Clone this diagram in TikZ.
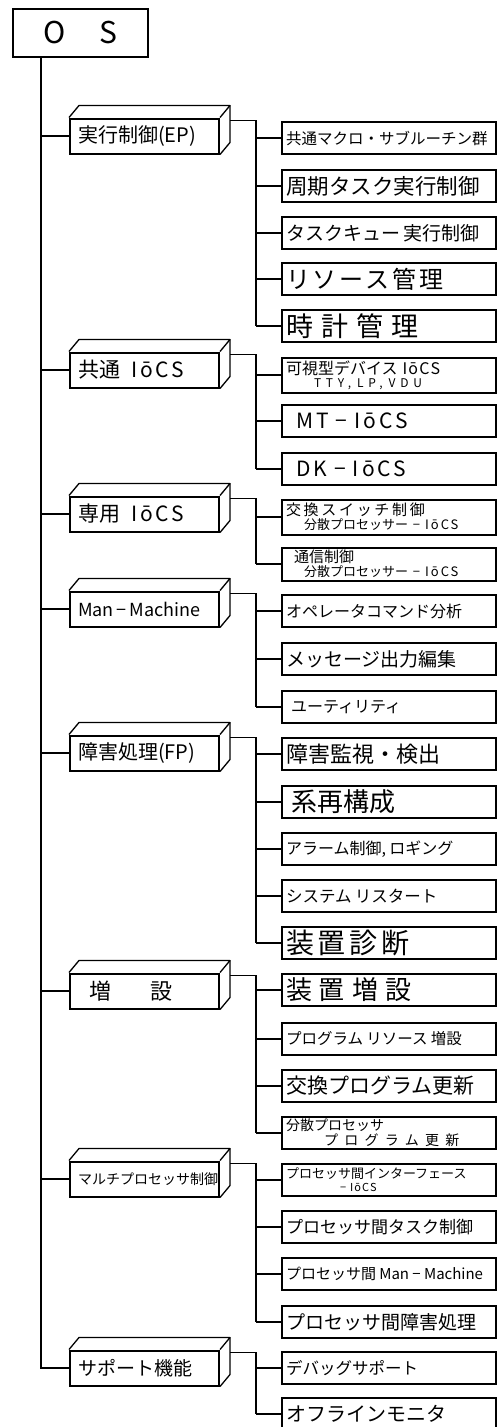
\documentclass[tikz,border=0pt]{standalone}
\usepackage{fontspec}
\newfontfamily\jp{Noto Sans CJK JP}
\usetikzlibrary{calc}
\newcommand{\fs}[1]{\fontsize{#1}{#1}\selectfont}
\newcommand{\lsp}[1]{\addfontfeature{LetterSpace=#1}}
\begin{document}
\begin{tikzpicture}[x=1pt,y=-1pt,
  wire/.style={line width=1.9pt},
  osbox/.style={draw,line width=2pt,minimum width=135pt,minimum height=48pt,inner sep=0pt,font=\jp},
  catbox/.style={draw,line width=2pt,text width=133pt,inner xsep=8pt,inner ysep=0pt,minimum height=35pt,anchor=west,align=left,font=\jp,fill=white},
  childbox/.style={draw,line width=2pt,text width=206pt,inner xsep=4pt,inner ysep=0pt,minimum height=32pt,anchor=west,align=left,font=\jp},
  face/.style={line width=1.3pt,line join=round}]
\useasboundingbox[fill=white] (0,0) rectangle (501,1427);

% root
\node[osbox] (os) at (80.5,33) {\fs{30}O\hspace{33pt}S};
\coordinate (t) at (41,0);

% categories
\node[catbox] (c1) at (69,136) {\fs{20}実行制御(EP)};
\node[catbox] (c2) at (69,370) {\fs{21}共通\hspace{12pt}{\lsp{12}IōCS}};
\node[catbox] (c3) at (69,514) {\fs{21}専用\hspace{12pt}{\lsp{12}IōCS}};
\node[catbox] (c4) at (69,609) {\fs{18}Man\,−\,Machine};
\node[catbox] (c5) at (69,753) {\fs{20}障害処理(FP)};
\node[catbox] (c6) at (69,991) {\fs{22}\hspace*{11pt}増\hspace{40pt}設};
\node[catbox] (c7) at (69,1179) {\fs{14}マルチプロセッサ制御};
\node[catbox] (c8) at (69,1368) {\fs{19}サポート機能};

\foreach \c in {c1,c2,c3,c4,c5,c6,c7,c8}{
  \draw[face] (\c.north west) -- ++(10,-12) -- ($(\c.north east)+(10,-12)$) -- (\c.north east);
  \draw[face] ($(\c.north east)+(10,-12)$) -- ($(\c.south east)+(10,-12)$) -- (\c.south east);
  \coordinate (\c r) at ($(\c.north east)+(10,3)$);
}

% trunk
\draw[wire] (t |- os.south) |- (c8.west);
\foreach \c in {c1,c2,c3,c4,c5,c6,c7}{
  \draw[wire] (t |- \c.west) -- (\c.west);
}

\coordinate (b) at (256,0);

% group 1
\node[childbox] (k11) at (281,138) {\fs{15.5}共通マクロ・サブルーチン群};
\node[childbox] (k12) at (281,186) {\fs{21.5}周期タスク実行制御};
\node[childbox] (k13) at (281,233) {\fs{19}タスクキュー 実行制御};
\node[childbox] (k14) at (281,279) {\fs{24}{\lsp{12}リソース管理}};
\node[childbox] (k15) at (281,326) {\fs{27}{\lsp{30}時計管理}};
% group 2
\node[childbox,minimum height=35pt] (k21) at (281,375) {\fontsize{16}{16}\selectfont 可視型デバイス\hspace{5pt}{\lsp{8}IōCS}\\[1pt]\fontsize{12}{12}\selectfont\hspace*{28pt}{\lsp{40}TTY,}\hspace{6pt}{\lsp{40}LP,}\hspace{6pt}{\lsp{40}VDU}};
\node[childbox] (k22) at (281,421) {\fs{21}\hspace*{10pt}{\lsp{15}MT}\hspace{7pt}−\hspace{7pt}{\lsp{15}IōCS}};
\node[childbox] (k23) at (281,469) {\fs{21}\hspace*{10pt}{\lsp{15}DK}\hspace{7pt}−\hspace{7pt}{\lsp{15}IōCS}};
% group 3
\node[childbox,minimum height=35pt] (k31) at (281,517) {\fontsize{15}{15}\selectfont{\lsp{18}交換スイッチ制御}\\[1pt]\fontsize{13}{13}\selectfont\hspace*{18pt}分散プロセッサー\hspace{5pt}−\hspace{5pt}{\lsp{15}IōCS}};
\node[childbox,minimum height=33pt] (k32) at (281,564) {\fontsize{15}{15}\selectfont\hspace*{8pt}通信制御\\[1pt]\fontsize{13}{13}\selectfont\hspace*{18pt}分散プロセッサー\hspace{5pt}−\hspace{5pt}{\lsp{15}IōCS}};
% group 4
\node[childbox] (k41) at (281,611) {\fs{16}オペレータコマンド分析};
\node[childbox] (k42) at (281,659) {\fs{19}メッセージ出力編集};
\node[childbox] (k43) at (281,707) {\fs{16}\hspace*{5pt}ユーティリティ};
% group 5
\node[childbox] (k51) at (281,754) {\fs{22}障害監視・検出};
\node[childbox] (k52) at (281,802) {\fs{26}\hspace*{5pt}系再構成};
\node[childbox] (k53) at (281,849) {\fs{16}アラーム制御, ロギング};
\node[childbox] (k54) at (281,896) {\fs{16.5}システム リスタート};
\node[childbox] (k55) at (281,943) {\fs{28}{\lsp{14}装置診断}};
% group 6
\node[childbox] (k61) at (281,990) {\fs{26}{\lsp{27}装置増設}};
\node[childbox] (k62) at (281,1039) {\fs{15.5}プログラム リソース 増設};
\node[childbox] (k63) at (281,1086) {\fs{21}交換プログラム更新};
\node[childbox] (k64) at (281,1133) {\fontsize{14}{14}\selectfont 分散プロセッサ\\[1pt]\fontsize{14}{14}\selectfont\hspace*{38pt}{\lsp{45}プログラム更新}};
% group 7
\node[childbox] (k71) at (281,1180) {\fontsize{13}{13}\selectfont プロセッサ間インターフェース\\[1pt]\fontsize{11}{11}\selectfont\hspace*{54pt}−\hspace{4pt}{\lsp{10}IōCS}};
\node[childbox] (k72) at (281,1227) {\fs{17}プロセッサ間タスク制御};
\node[childbox] (k73) at (281,1274) {\fs{15}プロセッサ間 Man − Machine};
\node[childbox] (k74) at (281,1322) {\fs{19}プロセッサ間障害処理};
% group 8
\node[childbox] (k81) at (281,1368) {\fs{16.5}デバッグサポート};
\node[childbox] (k82) at (281,1414) {\fs{20}オフラインモニタ};

% group buses
\draw[wire] (c1r) -| (b |- k15.west);
\draw[wire] (c2r) -| (b |- k23.west);
\draw[wire] (c3r) -| (b |- k32.west);
\draw[wire] (c4r) -| (b |- k43.west);
\draw[wire] (c5r) -| (b |- k55.west);
\draw[wire] (c6r) -| (b |- k64.west);
\draw[wire] (c7r) -| (b |- k74.west);
\draw[wire] (c8r) -| (b |- k82.west);

\foreach \k in {k11,k12,k13,k14,k15,k21,k22,k23,k31,k32,k41,k42,k43,k51,k52,k53,k54,k55,k61,k62,k63,k64,k71,k72,k73,k74,k81,k82}{
  \draw[wire] (b |- \k.west) -- (\k.west);
}
\end{tikzpicture}
\end{document}
